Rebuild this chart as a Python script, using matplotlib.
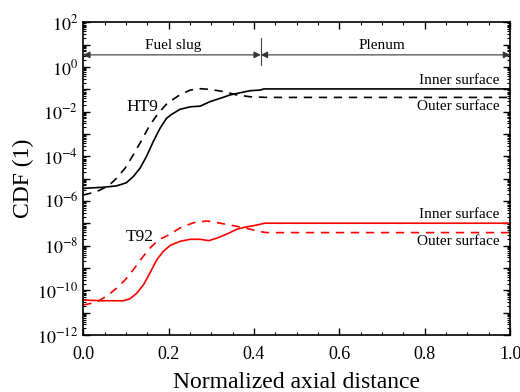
import matplotlib
matplotlib.use("Agg")
import matplotlib.pyplot as plt
import numpy as np
from matplotlib.ticker import FixedLocator, LogLocator, NullFormatter, MultipleLocator, FormatStrFormatter

plt.rcParams['font.family'] = ['Liberation Serif', 'DejaVu Serif']
plt.rcParams['mathtext.fontset'] = 'stix'

# HT9 cladding (log10 of CDF)
ht9_in_x = [0.0, 0.047, 0.078, 0.101, 0.117, 0.133, 0.148, 0.164, 0.180, 0.195, 0.207, 0.227, 0.251,
            0.274, 0.297, 0.321, 0.344, 0.368, 0.391, 0.415, 0.423, 1.0]
ht9_in_log = [-5.43, -5.38, -5.32, -5.18, -4.91, -4.53, -4.01, -3.34, -2.74, -2.30, -2.12, -1.89, -1.78,
              -1.75, -1.55, -1.40, -1.25, -1.15, -1.06, -1.03, -0.98, -0.98]
ht9_out_x = [0.0, 0.031, 0.059, 0.078, 0.098, 0.117, 0.137, 0.156, 0.176, 0.197, 0.226, 0.251, 0.274,
             0.297, 0.329, 0.36, 0.391, 0.43, 1.0]
ht9_out_log = [-5.73, -5.58, -5.32, -4.98, -4.53, -3.94, -3.27, -2.60, -2.07, -1.62, -1.25, -1.03, -0.97,
               -1.00, -1.10, -1.25, -1.33, -1.36, -1.36]

# T92 cladding (log10 of CDF)
t92_in_x = [0.0, 0.047, 0.094, 0.109, 0.125, 0.141, 0.156, 0.172, 0.187, 0.204, 0.227, 0.251, 0.274,
            0.294, 0.313, 0.337, 0.36, 0.383, 0.407, 0.418, 0.425, 1.0]
t92_in_log = [-10.43, -10.46, -10.46, -10.38, -10.13, -9.75, -9.23, -8.64, -8.26, -7.98, -7.80, -7.71, -7.71,
              -7.77, -7.66, -7.47, -7.26, -7.15, -7.07, -7.02, -6.99, -6.99]
t92_out_x = [0.0, 0.031, 0.059, 0.078, 0.098, 0.117, 0.137, 0.156, 0.176, 0.2, 0.227, 0.258, 0.290,
             0.321, 0.352, 0.383, 0.415, 0.43, 1.0]
t92_out_log = [-10.65, -10.53, -10.20, -9.90, -9.53, -9.08, -8.56, -8.11, -7.74, -7.52, -7.20, -6.97, -6.89,
               -6.99, -7.10, -7.22, -7.37, -7.41, -7.41]

fuel_end = 0.416

fig = plt.figure(figsize=(5.2, 3.92), dpi=100)
ax = fig.add_axes([0.16, 0.145, 0.821, 0.798])

dash = (5, 4)
ax.semilogy(ht9_in_x, 10.0 ** np.array(ht9_in_log), '-', color='black', lw=1.2)
ax.semilogy(ht9_out_x, 10.0 ** np.array(ht9_out_log), '--', color='black', lw=1.2, dashes=dash)
ax.semilogy(t92_in_x, 10.0 ** np.array(t92_in_log), '-', color='red', lw=1.2)
ax.semilogy(t92_out_x, 10.0 ** np.array(t92_out_log), '--', color='red', lw=1.2, dashes=dash)

ax.set_xlim(0, 1)
ax.set_ylim(1e-12, 1e2)

ax.xaxis.set_major_locator(MultipleLocator(0.2))
ax.xaxis.set_minor_locator(MultipleLocator(0.05))
ax.xaxis.set_major_formatter(FormatStrFormatter('%.1f'))

decades = list(range(-12, 3))
ax.yaxis.set_major_locator(FixedLocator([10.0 ** e for e in decades]))
ax.set_yticklabels(['$10^{%d}$' % e if e % 2 == 0 else '' for e in decades])
ax.yaxis.set_minor_locator(LogLocator(base=10, subs=range(2, 10), numticks=30))
ax.yaxis.set_minor_formatter(NullFormatter())

ax.tick_params(which='both', direction='in', top=True, right=True, labelsize=13)
ax.tick_params(axis='x', pad=8)
ax.tick_params(which='major', length=5, width=1)
ax.tick_params(which='minor', length=2.5, width=0.8)
for s in ax.spines.values():
    s.set_linewidth(1.2)

ax.set_xlabel('Normalized axial distance', fontsize=17, labelpad=6)
ax.set_ylabel('CDF (1)', fontsize=17, labelpad=2)

# region arrows
ya = 3.5
arrow = dict(arrowstyle='<|-|>', color='#333333', lw=0.8, shrinkA=0, shrinkB=0, mutation_scale=10)
ax.annotate('', xy=(0.0, ya), xytext=(fuel_end, ya), arrowprops=arrow)
ax.annotate('', xy=(fuel_end, ya), xytext=(1.0, ya), arrowprops=arrow)
ax.plot([fuel_end, fuel_end], [1.2, 20], color='#444444', lw=0.8)
ax.text(0.21, 4.6, 'Fuel slug', ha='center', va='bottom', fontsize=11)
ax.text(0.70, 4.6, 'Plenum', ha='center', va='bottom', fontsize=11)

ax.text(0.138, 1.6e-2, 'HT9', ha='center', va='center', fontsize=12.5)
ax.text(0.133, 2.4e-8, 'T92', ha='center', va='center', fontsize=12.5)

ax.text(0.975, 0.13, 'Inner surface', ha='right', va='bottom', fontsize=11)
ax.text(0.975, 0.035, 'Outer surface', ha='right', va='top', fontsize=11)
ax.text(0.975, 1.3e-7, 'Inner surface', ha='right', va='bottom', fontsize=11)
ax.text(0.975, 3.0e-8, 'Outer surface', ha='right', va='top', fontsize=11)

fig.savefig('out.png', dpi=100)
